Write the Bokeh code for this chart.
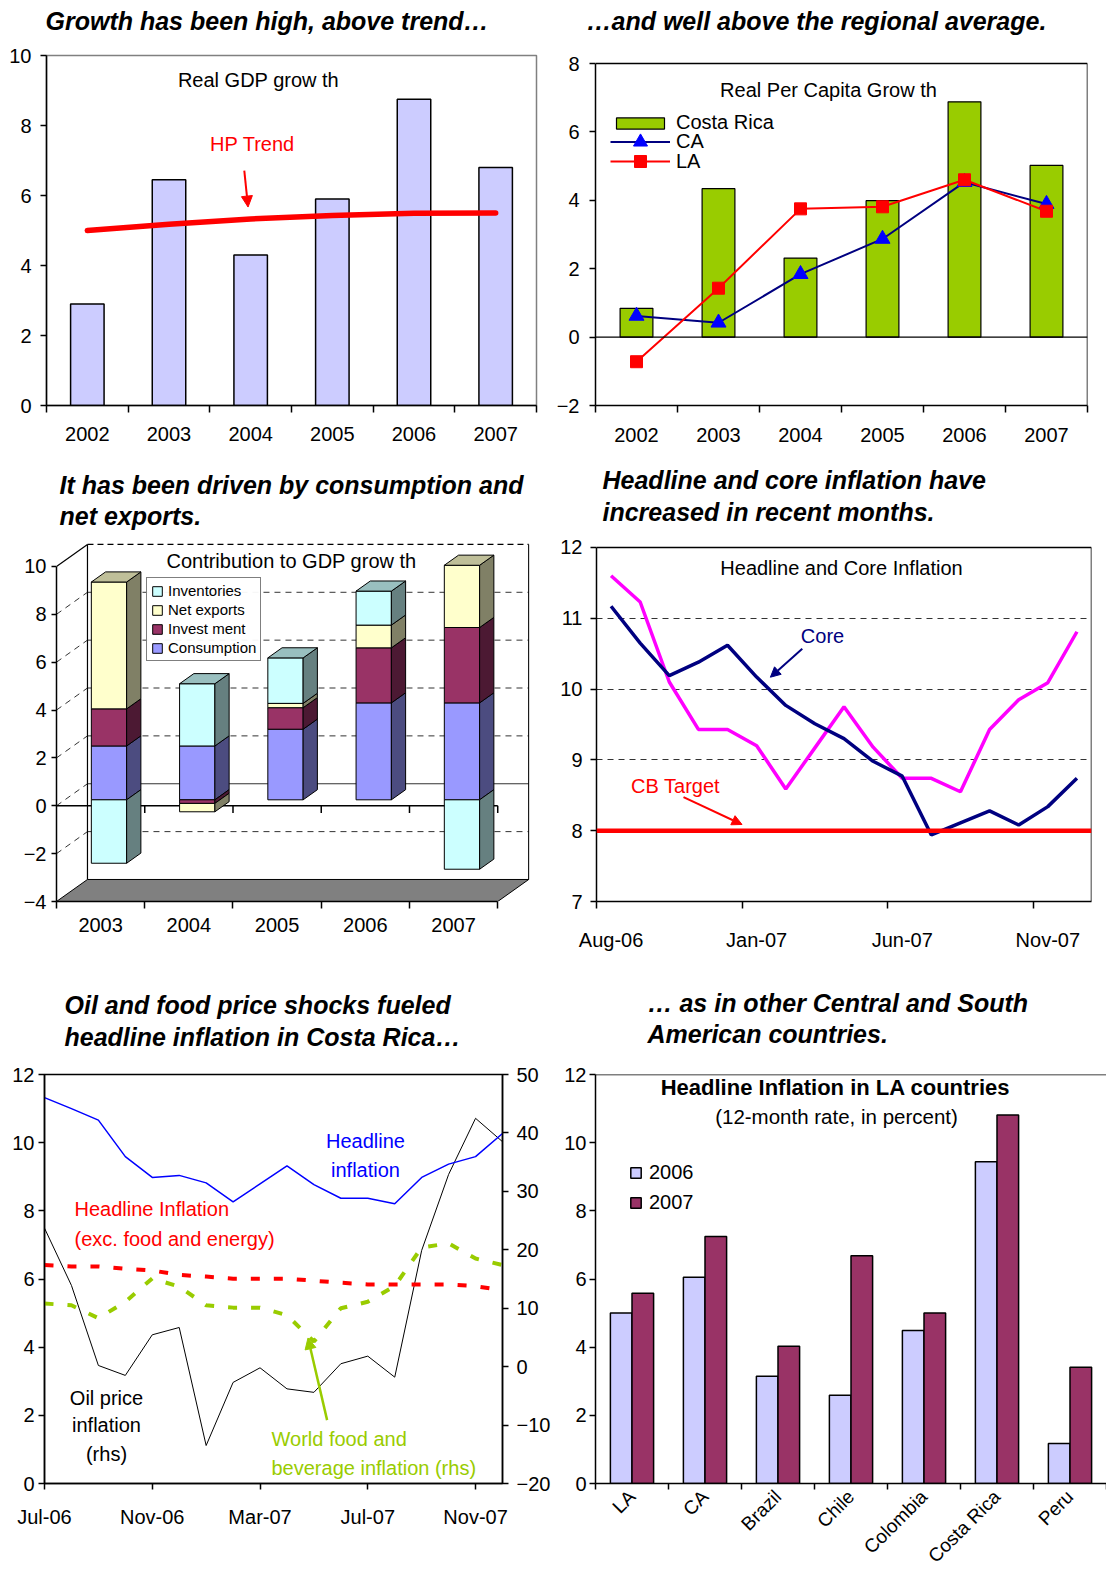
import math
import numpy as np
from bokeh.plotting import figure
from bokeh.models import (Range1d, LinearAxis, FixedTicker, Label, Arrow, NormalHead,
                          Span, Legend, LegendItem)
from bokeh.layouts import column, row
from bokeh.embed import file_html
from bokeh.resources import INLINE

FONT = "Liberation Sans"

# ---------------- data ----------------
gdp_years = ["2002", "2003", "2004", "2005", "2006", "2007"]
real_gdp_growth = [2.9, 6.45, 4.3, 5.9, 8.75, 6.8]
hp_trend = [5.0, 5.18, 5.33, 5.43, 5.49, 5.5]
gdp_ticks = [0, 2, 4, 6, 8, 10]

pc_years = ["2002", "2003", "2004", "2005", "2006", "2007"]
costa_rica_pc = [0.84, 4.34, 2.31, 3.99, 6.88, 5.02]
ca_pc = [0.62, 0.42, 1.84, 2.87, 4.53, 3.89]
la_pc = [-0.72, 1.43, 3.75, 3.81, 4.6, 3.68]
pc_ticks = [-2, 0, 2, 4, 6, 8]

contrib_years = ["2003", "2004", "2005", "2006", "2007"]
consumption = [2.25, 2.25, 2.95, 4.05, 4.05]
investment = [1.55, -0.15, 0.9, 2.3, 3.15]
net_exports = [5.3, -0.35, 0.18, 0.95, 2.6]
inventories = [-2.65, 2.6, 1.9, 1.42, -2.9]
contrib_ticks = [-4, -2, 0, 2, 4, 6, 8, 10]

infl_months = ["Aug-06", "Sep-06", "Oct-06", "Nov-06", "Dec-06", "Jan-07", "Feb-07",
               "Mar-07", "Apr-07", "May-07", "Jun-07", "Jul-07", "Aug-07", "Sep-07",
               "Oct-07", "Nov-07", "Dec-07"]
headline_cpi = [11.60, 11.23, 10.10, 9.43, 9.43, 9.20, 8.59, 9.17, 9.75, 9.18, 8.74,
                8.74, 8.55, 9.43, 9.85, 10.09, 10.81]
core_cpi = [11.17, 10.65, 10.19, 10.38, 10.62, 10.17, 9.77, 9.51, 9.30, 8.98, 8.77,
            7.94, 8.11, 8.28, 8.08, 8.34, 8.74]
cb_target = 8.0
infl_ticks = [7, 8, 9, 10, 11, 12]
infl_grid = [9, 10, 11]

shock_months = ["Jul-06", "Aug-06", "Sep-06", "Oct-06", "Nov-06", "Dec-06", "Jan-07",
                "Feb-07", "Mar-07", "Apr-07", "May-07", "Jun-07", "Jul-07", "Aug-07",
                "Sep-07", "Oct-07", "Nov-07", "Dec-07"]
headline_infl = [11.32, 11.0, 10.66, 9.59, 8.98, 9.04, 8.82, 8.26, 8.79, 9.32, 8.77,
                 8.37, 8.37, 8.21, 8.98, 9.37, 9.59, 10.27]
core_infl = [6.41, 6.37, 6.37, 6.30, 6.25, 6.12, 6.07, 6.01, 6.01, 6.01, 5.95, 5.89,
             5.84, 5.84, 5.84, 5.84, 5.79, 5.67]
oil_infl = [23.7, 13.9, 0.2, -1.5, 5.45, 6.7, -13.5, -2.7, -0.2, -3.8, -4.4, 0.5, 1.8,
            -1.8, 19.9, 32.9, 42.5, 38.5]
food_infl = [10.8, 10.5, 8.3, 11.1, 15.1, 13.7, 10.5, 10.1, 10.1, 8.8, 4.3, 10.0, 11.1,
             13.8, 20.4, 21.1, 18.5, 17.4]
lhs_ticks = [0, 2, 4, 6, 8, 10, 12]
rhs_ticks = [-20, -10, 0, 10, 20, 30, 40, 50]

countries = ["LA", "CA", "Brazil", "Chile", "Colombia", "Costa Rica", "Peru"]
infl_2006 = [5.0, 6.05, 3.15, 2.59, 4.49, 9.44, 1.17]
infl_2007 = [5.58, 7.25, 4.03, 6.68, 5.0, 10.81, 3.41]
la_ticks = [0, 2, 4, 6, 8, 10, 12]


# ---------------- helpers ----------------
def style_axis(ax, size="20px", tick_out=6, standoff=8):
    ax.axis_line_color = "black"
    ax.axis_line_width = 1.5
    ax.major_tick_line_color = "black"
    ax.major_tick_line_width = 1.5
    ax.major_tick_in = 0
    ax.major_tick_out = tick_out
    ax.minor_tick_line_color = None
    ax.major_label_text_font = FONT
    ax.major_label_text_font_size = size
    ax.major_label_text_color = "black"
    ax.major_label_standoff = standoff


def cat_axis(ax, labels, every=1, standoff=14, size="20px", tick_len=7):
    n = len(labels)
    ax.ticker = FixedTicker(ticks=list(range(0, n, every)),
                            minor_ticks=[i - 0.5 for i in range(0, n + 1, every)])
    ax.major_label_overrides = {i: labels[i] for i in range(0, n, every)}
    ax.major_tick_out = 0
    ax.major_tick_line_color = None
    ax.minor_tick_line_color = "black"
    ax.minor_tick_line_width = 1.5
    ax.minor_tick_in = 0
    ax.minor_tick_out = tick_len
    ax.major_label_standoff = standoff
    ax.major_label_text_font_size = size


def base_fig(w, h, l, r, t, b, xr, yr):
    p = figure(width=w, height=h, x_range=xr, y_range=yr, output_backend="svg",
               toolbar_location=None, tools="", title=None,
               min_border_left=l, min_border_right=r, min_border_top=t, min_border_bottom=b)
    p.grid.visible = False
    p.outline_line_color = None
    p.background_fill_color = "white"
    p.border_fill_color = "white"
    for ax in p.axis:
        style_axis(ax)
    return p


def head_fig(w, h):
    p = figure(width=w, height=h, x_range=Range1d(0, 1), y_range=Range1d(0, 1),
               output_backend="svg", toolbar_location=None, tools="", title=None,
               x_axis_location=None, y_axis_location=None, min_border=0)
    p.grid.visible = False
    p.outline_line_color = None
    p.background_fill_color = "white"
    p.border_fill_color = "white"
    return p


def txt(p, x, y, s, size="20px", color="black", style="normal", align="center",
        baseline="middle"):
    p.add_layout(Label(x=x, y=y, x_units="canvas", y_units="canvas", text=s,
                       text_font=FONT, text_font_size=size, text_color=color,
                       text_font_style=style, text_align=align, text_baseline=baseline))


def heading(p, x, y, s):
    txt(p, x, y, s, size="25px", style="bold italic", align="left", baseline="middle")


def legend(items, loc, **kw):
    lg = Legend(items=items, location=loc, margin=0, label_text_font=FONT,
                label_text_color="black", **kw)
    return lg


# ---------------- headings ----------------
h1 = head_fig(553, 38)
heading(h1, 45, 20, "Growth has been high, above trend…")
h2 = head_fig(553, 38)
heading(h2, 33, 20, "…and well above the regional average.")
h3 = head_fig(553, 75)
heading(h3, 59, 26, "It has been driven by consumption and")
heading(h3, 59, 57, "net exports.")
h4 = head_fig(553, 75)
heading(h4, 49, 21, "Headline and core inflation have")
heading(h4, 49, 53, "increased in recent months.")
h5 = head_fig(553, 90)
heading(h5, 64, 44, "Oil and food price shocks fueled")
heading(h5, 64, 76, "headline inflation in Costa Rica…")
h6 = head_fig(553, 90)
heading(h6, 94, 42, "… as in other Central and South")
heading(h6, 94, 73, "American countries.")

# ---------------- panel 1 ----------------
n1 = len(gdp_years)
x1 = list(range(n1))
p1 = base_fig(553, 420, 46, 17, 17, 53, Range1d(-0.5, n1 - 0.5),
              Range1d(gdp_ticks[0], gdp_ticks[-1]))
p1.outline_line_color = "#808080"
p1.outline_line_width = 1.5
p1.vbar(x=x1, top=real_gdp_growth, bottom=0, width=0.41, fill_color="#CCCCFF",
        line_color="black", line_width=1.5)
p1.line(x1, hp_trend, line_color="#FF0000", line_width=5.5, line_cap="round")
cat_axis(p1.xaxis[0], gdp_years, standoff=14)
p1.yaxis[0].ticker = FixedTicker(ticks=gdp_ticks)
p1.yaxis[0].major_label_standoff = 9
p1.add_layout(Arrow(end=NormalHead(size=11, fill_color="#FF0000", line_color="#FF0000"),
                    x_start=1.922, y_start=6.71, x_end=1.968, y_end=5.67,
                    line_color="#FF0000", line_width=2))
txt(p1, 258, 41, "Real GDP grow th")
txt(p1, 252, 105, "HP Trend", color="#FF0000")

# ---------------- panel 2 ----------------
n2 = len(pc_years)
x2 = list(range(n2))
x_lo2, x_hi2 = -0.5, n2 - 0.5
p2 = base_fig(553, 420, 40, 19, 17, 53, Range1d(x_lo2, x_hi2),
              Range1d(pc_ticks[0], pc_ticks[-1] + 0.234))
r_cr = p2.vbar(x=x2, top=costa_rica_pc, bottom=0, width=0.4, fill_color="#99CC00",
               line_color="black", line_width=1.2)
p2.segment(x0=[x_lo2, x_hi2], y0=[pc_ticks[-1], pc_ticks[0]],
           x1=[x_hi2, x_hi2], y1=[pc_ticks[-1], pc_ticks[-1]],
           line_color="black", line_width=1.5)
p2.add_layout(Span(location=0, dimension="width", line_color="black", line_width=1.2))
r_ca_l = p2.line(x2, ca_pc, line_color="#000080", line_width=2)
r_ca_m = p2.scatter(x2, ca_pc, marker="triangle", size=15, fill_color="#0000FF",
                    line_color="#0000FF")
r_la_l = p2.line(x2, la_pc, line_color="#FF0000", line_width=2)
r_la_m = p2.scatter(x2, la_pc, marker="square", size=12, fill_color="#FF0000",
                    line_color="#FF0000")
cat_axis(p2.xaxis[0], pc_years, standoff=15)
p2.yaxis[0].ticker = FixedTicker(ticks=pc_ticks)
p2.yaxis[0].bounds = (pc_ticks[0], pc_ticks[-1])
p2.yaxis[0].major_label_standoff = 10
leg_kw = dict(glyph_width=60, padding=0, label_standoff=6, label_text_font_size="20px",
              border_line_color=None, background_fill_alpha=0)
p2.add_layout(legend([LegendItem(label="Costa Rica", renderers=[r_cr])],
                     (15, 271), glyph_height=14, **leg_kw))
p2.add_layout(legend([LegendItem(label="CA", renderers=[r_ca_l, r_ca_m])],
                     (15, 246), glyph_height=35, **leg_kw))
p2.add_layout(legend([LegendItem(label="LA", renderers=[r_la_l, r_la_m])],
                     (15, 229), glyph_height=30, **leg_kw))
txt(p2, 275, 51, "Real Per Capita Grow th")

# ---------------- panel 3 (3-D stacked columns) ----------------
n3 = len(contrib_years)
x3 = np.arange(n3)
DX, DY = 0.351, 0.92          # depth of the chart box (category units, value units)
F1, F2 = 0.27, 0.73           # bar front / back position inside the depth
BW = 0.4
x_lo, x_hi = -0.5, n3 - 0.5
y_lo, y_hi = contrib_ticks[0], contrib_ticks[-1]
p3 = base_fig(553, 427, 56, 24, 9, 59, Range1d(x_lo, x_lo + 5.36), Range1d(y_lo, 11.0))
# floor
p3.patch([x_lo, x_hi, x_hi + DX, x_lo + DX], [y_lo, y_lo, y_lo + DY, y_lo + DY],
         fill_color="#808080", line_color="black", line_width=1)
# back wall grid and side wall lines
mid = [v for v in contrib_ticks[1:-1] if v != 0]
p3.segment(x0=[x_lo + DX] * len(mid), y0=[v + DY for v in mid],
           x1=[x_hi + DX] * len(mid), y1=[v + DY for v in mid],
           line_color="#333333", line_width=1, line_dash="6 5")
p3.segment(x0=[x_lo + DX], y0=[0 + DY], x1=[x_hi + DX], y1=[0 + DY],
           line_color="#333333", line_width=1.2)
mid_all = contrib_ticks[1:-1]
p3.segment(x0=[x_lo] * len(mid_all), y0=mid_all, x1=[x_lo + DX] * len(mid_all),
           y1=[v + DY for v in mid_all], line_color="#333333", line_width=1, line_dash="6 5")
p3.segment(x0=[x_lo + DX, x_hi + DX, x_lo], y0=[y_lo + DY, y_lo + DY, y_hi],
           x1=[x_lo + DX, x_hi + DX, x_lo + DX], y1=[y_hi + DY, y_hi + DY, y_hi + DY],
           line_color="black", line_width=1.2)
p3.segment(x0=[x_lo + DX], y0=[y_hi + DY], x1=[x_hi + DX], y1=[y_hi + DY],
           line_color="black", line_width=1.2, line_dash="6 4")
# front zero line with its ticks
p3.segment(x0=[x_lo], y0=[0], x1=[x_hi], y1=[0], line_color="black", line_width=1.5)
bounds3 = [i + 0.5 for i in range(n3)]
p3.segment(x0=bounds3, y0=[0] * n3, x1=bounds3, y1=[-0.3] * n3, line_color="black",
           line_width=1.5)

series3 = [("Consumption", consumption, "#9999FF", "#4C4C80", "#7373BF"),
           ("Investment", investment, "#993366", "#4C1933", "#73264C"),
           ("Net exports", net_exports, "#FFFFCC", "#808066", "#BFBF99"),
           ("Inventories", inventories, "#CCFFFF", "#668080", "#99BFBF")]
pos_base = np.zeros(n3)
neg_base = np.zeros(n3)
top_color = [None] * n3
ddx, ddy = (F2 - F1) * DX, (F2 - F1) * DY
left_all = x3 - BW / 2 + F1 * DX
right_all = x3 + BW / 2 + F1 * DX
front_r = {}
for name, vals, c_front, c_side, c_top in series3:
    v = np.array(vals, dtype=float)
    b = np.where(v >= 0, pos_base, neg_base + v)
    t = np.where(v >= 0, pos_base + v, neg_base)
    pos_base = np.where(v >= 0, pos_base + v, pos_base)
    neg_base = np.where(v < 0, neg_base + v, neg_base)
    for i in range(n3):
        if v[i] > 0:
            top_color[i] = c_top
    b1, t1 = b + F1 * DY, t + F1 * DY
    front_r[name] = p3.quad(left=left_all, right=right_all, bottom=b1, top=t1,
                            fill_color=c_front, line_color="black", line_width=1)
    p3.patches(xs=[[r, r + ddx, r + ddx, r] for r in right_all],
               ys=[[bb, bb + ddy, tt + ddy, tt] for bb, tt in zip(b1, t1)],
               fill_color=c_side, line_color="black", line_width=1)
ttop = pos_base + F1 * DY
p3.patches(xs=[[l, r, r + ddx, l + ddx] for l, r in zip(left_all, right_all)],
           ys=[[t, t, t + ddy, t + ddy] for t in ttop],
           fill_color=top_color, line_color="black", line_width=1)

xa3 = p3.xaxis[0]
cat_axis(xa3, contrib_years, standoff=9)
xa3.bounds = (x_lo, x_hi)
ya3 = p3.yaxis[0]
ya3.ticker = FixedTicker(ticks=contrib_ticks)
ya3.bounds = (y_lo, y_hi)
ya3.major_tick_out = 5
ya3.major_label_standoff = 5
p3.add_layout(legend([LegendItem(label="Inventories", renderers=[front_r["Inventories"]]),
                      LegendItem(label="Net exports", renderers=[front_r["Net exports"]]),
                      LegendItem(label="Invest ment", renderers=[front_r["Investment"]]),
                      LegendItem(label="Consumption", renderers=[front_r["Consumption"]])],
                     (90, 240), glyph_width=12, glyph_height=12, label_height=17,
                     spacing=2, padding=4, label_standoff=5, label_text_font_size="15px",
                     border_line_color="black", border_line_width=1,
                     background_fill_color="white"))
txt(p3, 291, 27, "Contribution to GDP grow th")

# ---------------- panel 4 ----------------
n4 = len(infl_months)
x4 = list(range(n4))
x_lo4, x_hi4 = -0.5, n4 - 0.5
p4 = base_fig(553, 427, 43, 15, 9, 59, Range1d(x_lo4, x_hi4),
              Range1d(infl_ticks[0], infl_ticks[-1] + 0.0706))
p4.ygrid.visible = True
p4.ygrid[0].ticker = FixedTicker(ticks=infl_grid)
p4.ygrid.grid_line_color = "#333333"
p4.ygrid.grid_line_dash = "6 5"
p4.ygrid.grid_line_width = 1
p4.segment(x0=[x_lo4, x_hi4], y0=[infl_ticks[-1], infl_ticks[0]],
           x1=[x_hi4, x_hi4], y1=[infl_ticks[-1], infl_ticks[-1]],
           line_color="black", line_width=1.5)
p4.line(x4, headline_cpi, line_color="#FF00FF", line_width=3.5)
p4.line(x4, core_cpi, line_color="#000080", line_width=3.5)
p4.add_layout(Span(location=cb_target, dimension="width", line_color="#FF0000",
                   line_width=4.5))
cat_axis(p4.xaxis[0], infl_months, every=5, standoff=20)
p4.yaxis[0].ticker = FixedTicker(ticks=infl_ticks)
p4.yaxis[0].bounds = (infl_ticks[0], infl_ticks[-1])
p4.yaxis[0].major_label_standoff = 8
p4.add_layout(Arrow(end=NormalHead(size=10, fill_color="#000080", line_color="#000080"),
                    x_start=6.567, y_start=10.569, x_end=5.472, y_end=10.168,
                    line_color="#000080", line_width=2))
p4.add_layout(Arrow(end=NormalHead(size=10, fill_color="#FF0000", line_color="#FF0000"),
                    x_start=2.488, y_start=8.473, x_end=4.497, y_end=8.088,
                    line_color="#FF0000", line_width=2))
txt(p4, 288, 34, "Headline and Core Inflation")
txt(p4, 269, 102, "Core", color="#000080")
txt(p4, 122, 252, "CB Target", color="#FF0000")

# ---------------- panel 5 ----------------
n5 = len(shock_months)
x5 = list(range(n5))
p5 = base_fig(553, 527, 44, 43, 24, 90, Range1d(0, n5 - 1),
              Range1d(lhs_ticks[0], lhs_ticks[-1]))
p5.extra_y_ranges = {"rhs": Range1d(rhs_ticks[0], rhs_ticks[-1])}
p5.outline_line_color = "black"
p5.outline_line_width = 1.5
ax_r = LinearAxis(y_range_name="rhs", ticker=FixedTicker(ticks=rhs_ticks))
style_axis(ax_r, standoff=8)
p5.add_layout(ax_r, "right")
p5.line(x5, oil_infl, y_range_name="rhs", line_color="black", line_width=1)
p5.line(x5, food_infl, y_range_name="rhs", line_color="#99CC00", line_width=4,
        line_dash="9 14")
p5.line(x5, core_infl, line_color="#FF0000", line_width=4, line_dash="9 14")
p5.line(x5, headline_infl, line_color="#0000FF", line_width=1.5)
xa5 = p5.xaxis[0]
xa5.ticker = FixedTicker(ticks=list(range(0, n5, 4)))
xa5.major_label_overrides = {i: shock_months[i] for i in range(0, n5, 4)}
xa5.major_label_standoff = 16
p5.yaxis[0].ticker = FixedTicker(ticks=lhs_ticks)
p5.yaxis[0].major_label_standoff = 4
p5.add_layout(Arrow(end=NormalHead(size=11, fill_color="#99CC00", line_color="#99CC00"),
                    x_start=10.49, y_start=1.86, x_end=9.78, y_end=4.27,
                    line_color="#99CC00", line_width=2.5))
txt(p5, 365, 90, "Headline", color="#0000FF")
txt(p5, 365, 119, "inflation", color="#0000FF")
txt(p5, 74, 158, "Headline Inflation", color="#FF0000", align="left")
txt(p5, 74, 188, "(exc. food and energy)", color="#FF0000", align="left")
txt(p5, 106, 347, "Oil price")
txt(p5, 106, 374, "inflation")
txt(p5, 106, 403, "(rhs)")
txt(p5, 271, 388, "World food and", color="#99CC00", align="left")
txt(p5, 271, 417, "beverage inflation (rhs)", color="#99CC00", align="left")

# ---------------- panel 6 ----------------
n6 = len(countries)
x6 = np.arange(n6)
p6 = base_fig(553, 527, 42, 0, 24, 90, Range1d(-0.5, n6 - 0.5),
              Range1d(la_ticks[0], la_ticks[-1]))
r06 = p6.vbar(x=x6 - 0.148, top=infl_2006, bottom=0, width=0.296, fill_color="#CCCCFF",
              line_color="black", line_width=1.5)
r07 = p6.vbar(x=x6 + 0.148, top=infl_2007, bottom=0, width=0.296, fill_color="#993366",
              line_color="black", line_width=1.5)
p6.add_layout(Span(location=la_ticks[-1], dimension="width", line_color="black",
                   line_width=1.5))
xa6 = p6.xaxis[0]
cat_axis(xa6, countries, standoff=4, size="19px", tick_len=6)
xa6.major_label_orientation = math.pi / 4
p6.yaxis[0].ticker = FixedTicker(ticks=la_ticks)
p6.yaxis[0].major_label_standoff = 3
p6.add_layout(legend([LegendItem(label="2006", renderers=[r06]),
                      LegendItem(label="2007", renderers=[r07])],
                     (34, 269), glyph_width=13, glyph_height=13, label_height=21,
                     spacing=7, padding=0, label_standoff=7, label_text_font_size="20px",
                     border_line_color=None, background_fill_alpha=0))
txt(p6, 282, 37, "Headline Inflation in LA countries", size="22px", style="bold")
txt(p6, 283, 66, "(12-month rate, in percent)", size="20.5px")

layout = column(row(h1, h2), row(p1, p2), row(h3, h4), row(p3, p4),
                row(h5, h6), row(p5, p6))
open("out.html", "w").write(file_html(layout, INLINE, title="Costa Rica growth and inflation"))
